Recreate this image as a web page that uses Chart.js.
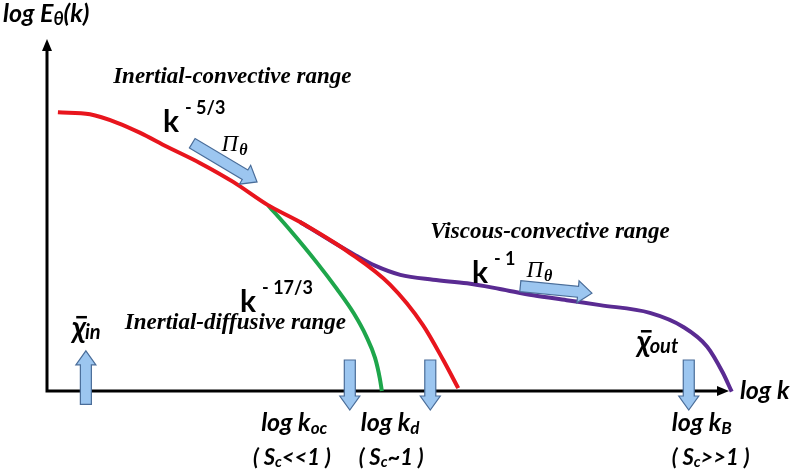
<!DOCTYPE html>
<html>
<head>
<meta charset="utf-8">
<script src="https://cdn.jsdelivr.net/npm/chart.js@4.4.0/dist/chart.umd.min.js"></script>
<style>
html, body { margin: 0; padding: 0; background: #fff; }
#c { display: block; }
</style>
</head>
<body>
<canvas id="c" width="797" height="476"></canvas>
<script>
// spectrum curves, in (log k, log E) units
const redK    = [0.16, 0.63, 1.03, 1.36, 1.76, 2.24, 2.73, 3.24, 3.71, 4.44, 5.03, 5.51, 5.81, 6.03];
const redE    = [3.96, 3.93, 3.81, 3.67, 3.47, 3.24, 2.97, 2.64, 2.40, 1.96, 1.51, 0.94, 0.44, 0.04];
const greenK  = [3.24, 3.56, 3.96, 4.25, 4.50, 4.68, 4.81, 4.88, 4.91];
const greenE  = [2.64, 2.29, 1.82, 1.45, 1.10, 0.78, 0.47, 0.18, 0.00];
const purpleK = [3.71, 4.15, 4.52, 4.81, 5.18, 5.66, 6.16, 6.64, 7.13, 7.62, 8.11, 8.84, 9.33, 9.68, 9.91, 10.04];
const purpleE = [2.40, 2.14, 1.93, 1.78, 1.65, 1.58, 1.53, 1.45, 1.36, 1.29, 1.22, 1.11, 0.91, 0.63, 0.26, -0.01];

// flux arrows (tail -> tip) and marker arrows on the k axis
const fluxFrom = [[2.13, 3.52], [6.94, 1.49]];
const fluxTo   = [[3.08, 2.97], [7.99, 1.39]];
const markK    = [0.57, 4.44, 5.62, 9.41];
const markUp   = [true, false, false, false];

const rangeNames = ['Inertial-convective range', 'Viscous-convective range', 'Inertial-diffusive range'];
const slopes     = ['- 5/3', '- 1', '- 17/3'];
const kLabels    = [['log k', 'oc', '( S', 'c', '<<1 )'], ['log k', 'd', '( S', 'c', '~1 )'], ['log k', 'B', '( S', 'c', '>>1 )']];

function pts(xs, ys) {
    return xs.map(function(x, i) { return {x: x, y: ys[i]}; });
}

const SANS = 'Lato, "Open Sans", "DejaVu Sans", sans-serif';
const SERIF = '"Liberation Serif", "DejaVu Serif", serif';

function drawRich(ctx, x, y, parts) {
    let cx = x;
    parts.forEach(function(p) {
        ctx.font = p.f;
        ctx.fillText(p.t, cx, y + (p.dy || 0));
        cx += ctx.measureText(p.t).width + (p.gap || 0);
    });
    return cx;
}

function blockArrow(ctx, x1, y1, x2, y2, bw, hw, hl) {
    let dx = x2 - x1, dy = y2 - y1;
    let len = Math.sqrt(dx * dx + dy * dy);
    let ux = dx / len, uy = dy / len;
    let nx = -uy, ny = ux;
    let bx = x2 - ux * hl, by = y2 - uy * hl;
    ctx.beginPath();
    ctx.moveTo(x1 + nx * bw, y1 + ny * bw);
    ctx.lineTo(bx + nx * bw, by + ny * bw);
    ctx.lineTo(bx + nx * hw, by + ny * hw);
    ctx.lineTo(x2, y2);
    ctx.lineTo(bx - nx * hw, by - ny * hw);
    ctx.lineTo(bx - nx * bw, by - ny * bw);
    ctx.lineTo(x1 - nx * bw, y1 - ny * bw);
    ctx.closePath();
    ctx.fillStyle = '#9cc6f0';
    ctx.fill();
    ctx.lineWidth = 1.2;
    ctx.strokeStyle = '#4a6d99';
    ctx.stroke();
}

const axesPlugin = {
    id: 'axesPlugin',
    beforeDatasetsDraw: function(chart) {
        let ctx = chart.ctx, xs = chart.scales.x, ys = chart.scales.y;
        let x0 = xs.getPixelForValue(0), y0 = ys.getPixelForValue(0);
        let xe = xs.getPixelForValue(10), ye = ys.getPixelForValue(5);
        ctx.save();
        ctx.strokeStyle = '#000';
        ctx.fillStyle = '#000';
        ctx.lineWidth = 3;
        ctx.beginPath();
        ctx.moveTo(x0, ye + 8);
        ctx.lineTo(x0, y0);
        ctx.lineTo(xe - 8, y0);
        ctx.stroke();
        ctx.beginPath();
        ctx.moveTo(x0, ye);
        ctx.lineTo(x0 - 5, ye + 12);
        ctx.lineTo(x0 + 5, ye + 12);
        ctx.closePath();
        ctx.fill();
        ctx.beginPath();
        ctx.moveTo(xe, y0);
        ctx.lineTo(xe - 12, y0 - 5);
        ctx.lineTo(xe - 12, y0 + 5);
        ctx.closePath();
        ctx.fill();
        ctx.restore();
    },
    afterDatasetsDraw: function(chart) {
        let ctx = chart.ctx, xs = chart.scales.x, ys = chart.scales.y;
        let px = function(v) { return xs.getPixelForValue(v); };
        let py = function(v) { return ys.getPixelForValue(v); };
        ctx.save();

        // flux arrows
        for (let i = 0; i < fluxFrom.length; i++) {
            blockArrow(ctx, px(fluxFrom[i][0]), py(fluxFrom[i][1]), px(fluxTo[i][0]), py(fluxTo[i][1]), 5.5, 11, 14);
        }
        // marker arrows
        for (let i = 0; i < markK.length; i++) {
            let x = px(markK[i]);
            if (markUp[i]) blockArrow(ctx, x, py(-0.19), x, py(0.57), 5.5, 10, 14);
            else blockArrow(ctx, x, py(0.44), x, py(-0.27), 5.5, 10, 14);
        }

        ctx.fillStyle = '#000';
        ctx.textBaseline = 'alphabetic';
        ctx.textAlign = 'left';

        // axis titles
        drawRich(ctx, px(-0.645), py(5.24), [
            {t: 'log E', f: 'italic bold 25px ' + SANS},
            {t: 'θ', f: 'italic bold 18px ' + SANS, dy: 3},
            {t: '(k)', f: 'italic bold 25px ' + SANS}
        ]);
        drawRich(ctx, px(10.16), py(-0.11), [{t: 'log k', f: 'italic bold 25px ' + SANS}]);

        // range names
        ctx.font = 'italic bold 23px ' + SERIF;
        ctx.fillText(rangeNames[0], px(0.97), py(4.37));
        ctx.fillText(rangeNames[1], px(5.62), py(2.18));
        ctx.fillText(rangeNames[2], px(1.14), py(0.88));

        // slopes
        let kAt = [[1.70, 3.68], [6.23, 1.54], [2.83, 1.12]];
        for (let i = 0; i < slopes.length; i++) {
            drawRich(ctx, px(kAt[i][0]), py(kAt[i][1]), [
                {t: 'k', f: 'bold 30px ' + SANS, gap: 6},
                {t: slopes[i], f: 'bold 18px ' + SANS, dy: -18}
            ]);
        }

        // fluxes
        let piAt = [[2.56, 3.41], [7.03, 1.62]];
        piAt.forEach(function(p) {
            drawRich(ctx, px(p[0]), py(p[1]), [
                {t: 'Π', f: 'italic 23px ' + SERIF, gap: 1},
                {t: 'θ', f: 'italic bold 16px ' + SERIF, dy: 4}
            ]);
        });

        // injection / dissipation
        let chiAt = [[0.37, 0.75, 'in'], [8.65, 0.55, 'out']];
        chiAt.forEach(function(c) {
            let x = px(c[0]), y = py(c[1]);
            ctx.font = 'italic bold 30px ' + SANS;
            let w = ctx.measureText('χ').width;
            ctx.fillText('χ', x, y);
            ctx.lineWidth = 2.5;
            ctx.strokeStyle = '#000';
            ctx.beginPath();
            ctx.moveTo(x + 4, y - 21);
            ctx.lineTo(x + w + 1, y - 21);
            ctx.stroke();
            ctx.font = 'italic bold 20px ' + SANS;
            ctx.fillText(c[2], x + w - 1, y + 1);
        });

        // wavenumber labels
        let labAt = [[3.14, 3.02], [4.60, 4.57], [9.16, 9.16]];
        for (let i = 0; i < kLabels.length; i++) {
            let l = kLabels[i];
            drawRich(ctx, px(labAt[i][0]), py(-0.57), [
                {t: l[0], f: 'italic bold 25px ' + SANS},
                {t: l[1], f: 'italic bold 17px ' + SANS, dy: 3}
            ]);
            drawRich(ctx, px(labAt[i][1]), py(-1.05), [
                {t: l[2], f: 'italic bold 22px ' + SANS},
                {t: l[3], f: 'italic bold 15px ' + SANS, dy: 2},
                {t: l[4], f: 'italic bold 22px ' + SANS}
            ]);
        }
        ctx.restore();
    }
};

const chart = new Chart(document.getElementById('c'), {
    type: 'scatter',
    data: {
        datasets: [
            {label: 'red', data: pts(redK, redE), borderColor: '#e8151d'},
            {label: 'green', data: pts(greenK, greenE), borderColor: '#1ea64b'},
            {label: 'purple', data: pts(purpleK, purpleE), borderColor: '#5a2b92'}
        ].map(function(d) {
            d.showLine = true;
            d.pointRadius = 0;
            d.borderWidth = 4;
            d.cubicInterpolationMode = 'monotone';
            d.clip = false;
            d.fill = false;
            return d;
        })
    },
    options: {
        responsive: false,
        animation: false,
        layout: {padding: {left: 47, right: 68, top: 39, bottom: 85}},
        plugins: {legend: {display: false}, tooltip: {enabled: false}},
        scales: {
            x: {type: 'linear', min: 0, max: 10, display: false},
            y: {type: 'linear', min: 0, max: 5, display: false}
        }
    },
    plugins: [axesPlugin]
});
</script>
</body>
</html>
